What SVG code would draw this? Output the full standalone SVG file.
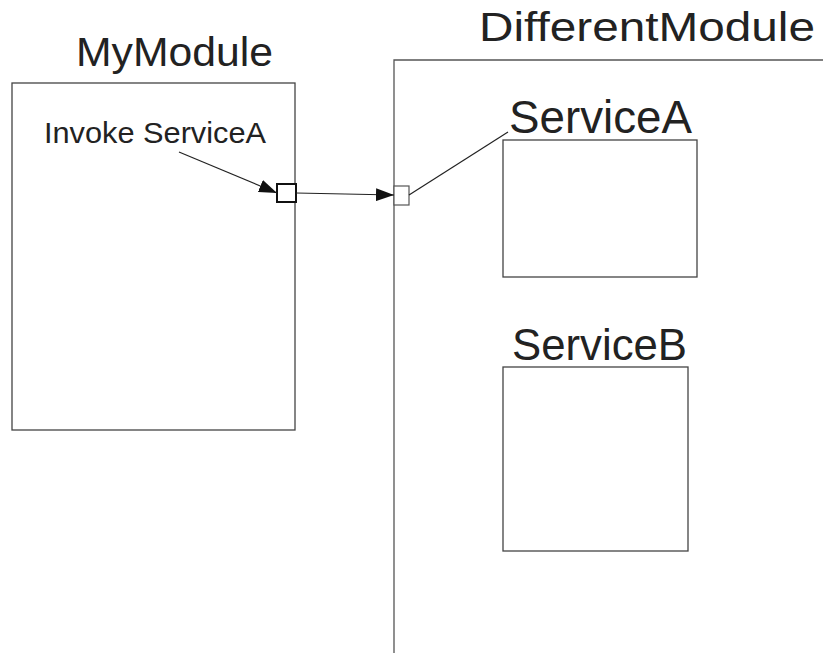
<svg xmlns="http://www.w3.org/2000/svg" width="823" height="653" viewBox="0 0 823 653">
<style>
.box{fill:#fff;stroke:#444;stroke-width:1.3}
.t{font-family:"Liberation Sans",Arial,sans-serif;fill:#222}
.c{stroke:#222;stroke-width:1.2;fill:none}
</style>
<defs>
<marker id="ah" viewBox="0 0 18 13" refX="18" refY="6.5" markerWidth="18" markerHeight="13" markerUnits="userSpaceOnUse" orient="auto">
<path d="M0,0 L18,6.5 L0,13 z" fill="#111"/>
</marker>
</defs>
<rect width="823" height="653" fill="#fff"/>
<g id="mymodule">
<rect class="box" x="12" y="83" width="283" height="347"/>
<text class="t" x="76" y="66" font-size="40" textLength="197" lengthAdjust="spacingAndGlyphs">MyModule</text>
<text class="t" x="44" y="143" font-size="30" textLength="222" lengthAdjust="spacingAndGlyphs">Invoke ServiceA</text>
</g>
<g id="differentmodule">
<path d="M394,653 V60 H823" fill="none" stroke="#555" stroke-width="1.3"/>
<text class="t" x="479" y="41" font-size="41" textLength="336" lengthAdjust="spacingAndGlyphs">DifferentModule</text>
</g>
<g id="serviceA">
<rect class="box" x="503" y="140" width="194" height="137"/>
<text class="t" x="509" y="133" font-size="47" textLength="183" lengthAdjust="spacingAndGlyphs">ServiceA</text>
</g>
<g id="serviceB">
<rect class="box" x="503" y="367" width="185" height="184"/>
<text class="t" x="512" y="360" font-size="44" textLength="175" lengthAdjust="spacingAndGlyphs">ServiceB</text>
</g>
<g id="port-out">
<rect x="277" y="184" width="19" height="18" fill="#fff" stroke="#111" stroke-width="2"/>
</g>
<g id="port-in">
<rect x="394" y="186" width="15" height="19" fill="#fff" stroke="#555" stroke-width="1.2"/>
</g>
<g id="connectors">
<line class="c" x1="179" y1="152" x2="277" y2="193" marker-end="url(#ah)"/>
<line class="c" x1="296" y1="193" x2="394" y2="195" marker-end="url(#ah)"/>
<line class="c" x1="409" y1="195" x2="508" y2="132"/>
</g>
</svg>
